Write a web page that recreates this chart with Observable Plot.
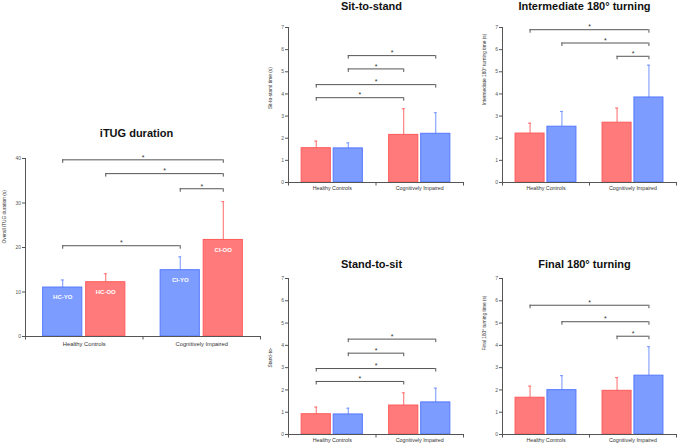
<!DOCTYPE html>
<html>
<head>
<meta charset="utf-8">
<script src="https://cdn.jsdelivr.net/npm/d3@7"></script>
<script src="https://cdn.jsdelivr.net/npm/@observablehq/plot@0.6"></script>
<style>
  html, body { margin: 0; padding: 0; background: #fff; }
  #chart { position: relative; width: 678px; height: 444px; overflow: hidden; font-family: "Liberation Sans", Arial, sans-serif; }
  #chart svg { position: absolute; }
</style>
</head>
<body>
<div id="chart"></div>
<script>
// ---------- data ----------
const groups = ["Healthy Controls", "Cognitively Impaired"];

// iTUG duration (bars: HC-YO, HC-OO, CI-YO, CI-OO)
const itugLabels = ["HC-YO", "HC-OO", "CI-YO", "CI-OO"];
const itugSeries = ["blue", "red", "blue", "red"];
const itugMean = [11.0, 12.2, 14.9, 21.7];
const itugSD = [1.7, 1.9, 3.0, 8.6];
const itugSig = [[0, 3, 39.7], [1, 3, 36.6], [2, 3, 33.2], [0, 2, 20.4]];

// other panels: bar order red, blue | red, blue
const phaseSeries = ["red", "blue", "red", "blue"];

const sitStandMean = [1.55, 1.54, 2.15, 2.20];
const sitStandSD = [0.32, 0.25, 1.18, 0.95];
const sitStandSig = [[0, 2, 3.83], [0, 3, 4.42], [1, 2, 5.13], [1, 3, 5.73]];

const turnMidMean = [2.21, 2.52, 2.70, 3.84];
const turnMidSD = [0.47, 0.69, 0.66, 1.46];
const turnMidSig = [[0, 3, 6.9], [1, 3, 6.3], [2, 3, 5.7]];

const standSitMean = [0.91, 0.90, 1.30, 1.44];
const standSitSD = [0.32, 0.28, 0.57, 0.64];
const standSitSig = [[0, 2, 2.38], [0, 3, 2.96], [1, 2, 3.65], [1, 3, 4.28]];

const turnEndMean = [1.65, 1.99, 1.96, 2.64];
const turnEndSD = [0.52, 0.65, 0.59, 1.30];
const turnEndSig = [[0, 3, 5.8], [1, 3, 5.06], [2, 3, 4.41]];

const ticks40 = [0, 10, 20, 30, 40];
const ticks7 = [0, 1, 2, 3, 4, 5, 6, 7];

// ---------- styles ----------
const fillColor = {red: "#ff7b7b", blue: "#7d9cff"};
const strokeColor = {red: "#ff5a5a", blue: "#5478ff"};
const errColor = {red: "#ff6a6a", blue: "#7393ff"};
const ink = "#555";
const font = "Liberation Sans, Arial, sans-serif";

function panel(cfg) {
  const {title, ylabel, means, sds, series, labels, sig, yticks, geom} = cfg;
  const ymax = yticks[yticks.length - 1];
  const band = d3.scaleBand().domain([0, 1]).range([0, 1]).paddingInner(0.09).paddingOuter(0.41);
  const bars = means.map((m, i) => {
    const g = Math.floor(i / 2), k = i % 2;
    const x1 = g + band(k), x2 = x1 + band.bandwidth();
    return {x1, x2, xc: (x1 + x2) / 2, v: m, top: m + sds[i], s: series[i], label: labels ? labels[i] : ""};
  });
  const brackets = sig.map(([a, b, y]) => ({xa: bars[a].xc, xb: bars[b].xc, xm: (bars[a].xc + bars[b].xc) / 2, y}));
  const ends = brackets.flatMap(d => [{x: d.xa, y: d.y}, {x: d.xb, y: d.y}]);

  const svg = Plot.plot({
    width: geom.width,
    height: geom.height,
    marginLeft: geom.ml,
    marginRight: geom.mr,
    marginTop: geom.mt,
    marginBottom: geom.mb,
    style: {fontFamily: font, background: "transparent", overflow: "visible"},
    x: {domain: [0, 2], axis: null},
    y: {domain: [0, ymax], axis: null},
    marks: [
      // error bars
      Plot.ruleX(bars, {x: "xc", y1: "v", y2: "top", stroke: d => errColor[d.s], strokeWidth: 1}),
      Plot.ruleY(bars, {y: "top", x1: "xc", x2: "xc", insetLeft: -1.5, insetRight: -1.5, stroke: d => errColor[d.s], strokeWidth: 1}),
      // bars
      Plot.rect(bars, {x1: "x1", x2: "x2", y1: 0, y2: "v", fill: d => fillColor[d.s], stroke: d => strokeColor[d.s], strokeWidth: 1}),
      // bar labels
      Plot.text(bars.filter(d => d.label), {x: "xc", y: "v", text: "label", fill: "white", fontSize: 6, fontWeight: "bold", dy: 10}),
      // axes
      Plot.ruleX([0], {y1: 0, y2: ymax, stroke: ink}),
      Plot.ruleY([0], {stroke: ink}),
      Plot.axisY({ticks: yticks, tickFormat: d => String(d), tickSize: 3, tickPadding: 1.5, fontSize: 5, color: ink, label: null}),
      Plot.axisX({ticks: [0, 1, 2], tickSize: 3.5, tickFormat: () => "", color: ink, label: null}),
      Plot.text(groups, {x: (d, i) => i + 0.5, y: 0, text: d => d, dy: geom.catDy, fontSize: geom.catFont, fill: "#333"}),
      // y label
      Plot.text([ylabel], {frameAnchor: "left", rotate: -90, dx: geom.ylDx, dy: geom.ylDy, fontSize: 4.8, fill: "#333"}),
      // significance brackets
      Plot.ruleY(brackets, {y: "y", x1: "xa", x2: "xb", stroke: ink, strokeWidth: 1}),
      Plot.ruleX(ends, {x: "x", y1: "y", y2: "y", insetBottom: -3.5, stroke: ink, strokeWidth: 1}),
      Plot.text(brackets, {x: "xm", y: "y", text: () => "*", fontSize: 7, dy: -2.5, fill: "#333"}),
      // title
      Plot.text([title], {frameAnchor: "top", dx: geom.tDx, dy: geom.tDy, fontSize: 11, fontWeight: "bold", fill: "#111", lineAnchor: "bottom"})
    ]
  });
  svg.style.left = geom.left + "px";
  svg.style.top = geom.top + "px";
  return svg;
}

const chart = document.getElementById("chart");

chart.appendChild(panel({
  title: "iTUG duration", ylabel: "Overall iTUG duration (s)",
  means: itugMean, sds: itugSD, series: itugSeries, labels: itugLabels, sig: itugSig, yticks: ticks40,
  geom: {left: 0, top: 115, width: 262, height: 235, ml: 25, mr: 2, mt: 43, mb: 14, catDy: 8, catFont: 5.8, ylDx: -21, ylDy: -4, tDx: -6.5, tDy: -22}
}));

chart.appendChild(panel({
  title: "Sit-to-stand", ylabel: "Sit-to-stand time (s)",
  means: sitStandMean, sds: sitStandSD, series: phaseSeries, sig: sitStandSig, yticks: ticks7,
  geom: {left: 262, top: 0, width: 203, height: 195, ml: 26, mr: 2, mt: 27, mb: 13, catDy: 6, catFont: 5.3, ylDx: -18, ylDy: 4, tDx: -4.5, tDy: -17.5}
}));

chart.appendChild(panel({
  title: "Intermediate 180° turning", ylabel: "Intermediate 180° turning time (s)",
  means: turnMidMean, sds: turnMidSD, series: phaseSeries, sig: turnMidSig, yticks: ticks7,
  geom: {left: 465, top: 0, width: 213, height: 195, ml: 37, mr: 2, mt: 27, mb: 13, catDy: 6, catFont: 5.3, ylDx: -18, ylDy: 0, tDx: -5, tDy: -18}
}));

chart.appendChild(panel({
  title: "Stand-to-sit", ylabel: "Stand-to-",
  means: standSitMean, sds: standSitSD, series: phaseSeries, sig: standSitSig, yticks: ticks7,
  geom: {left: 262, top: 250, width: 203, height: 194, ml: 26, mr: 2, mt: 28, mb: 10, catDy: 6, catFont: 5.3, ylDx: -18, ylDy: 11, tDx: -4.5, tDy: -10.5}
}));

chart.appendChild(panel({
  title: "Final 180° turning", ylabel: "Final 180° turning time (s)",
  means: turnEndMean, sds: turnEndSD, series: phaseSeries, sig: turnEndSig, yticks: ticks7,
  geom: {left: 465, top: 250, width: 213, height: 194, ml: 37, mr: 2, mt: 28, mb: 10, catDy: 6, catFont: 5.3, ylDx: -18, ylDy: -6, tDx: -5, tDy: -10.5}
}));
</script>
</body>
</html>
